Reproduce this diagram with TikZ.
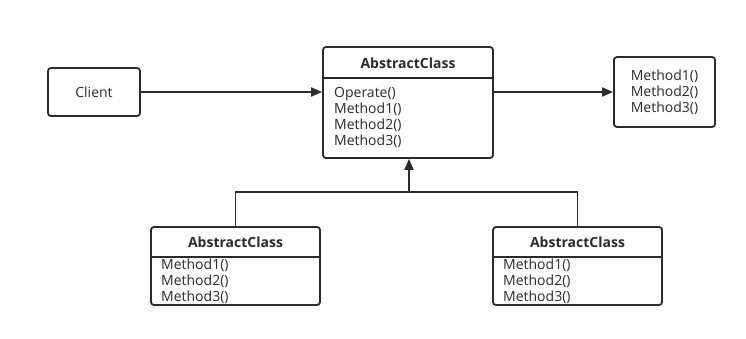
\documentclass[tikz,border=0pt]{standalone}
\usepackage{fontspec}
\setmainfont{Open Sans}
\usetikzlibrary{arrows.meta}
\definecolor{ink}{HTML}{2B2B2B}
\tikzset{
  box/.style={draw=ink, line width=1.8pt, rounded corners=3pt, fill=white, inner sep=0pt},
  title/.style={font=\fontsize{14}{16}\selectfont\bfseries, text=ink, inner sep=0pt},
  body/.style={font=\fontsize{14}{16}\selectfont, text=ink, align=left, inner sep=0pt, anchor=west},
  rule/.style={draw=ink, line width=1.8pt},
  arr/.style={draw=ink, line width=1.8pt, -{Triangle[length=11pt,width=9pt]}},
  link/.style={draw=ink, line width=1.8pt}
}
\begin{document}
\begin{tikzpicture}[x=1pt, y=-1pt]
\useasboundingbox (0,0) rectangle (746,338);

% client
\node[box, minimum width=92pt, minimum height=48pt] (client) at (94,92) {};
\node[body, anchor=center] (clientT) at (client.center) {Client};

% abstract class with template method
\node[box, minimum width=170pt, minimum height=111pt] (ac) at (408,102.5) {};
\node[title] (acT) at (408,63) {AbstractClass};
\draw[rule] (ac.west |- 0,78) -- (ac.east |- 0,78);
\node[body] (acM) at (334,118) {Operate()\\Method1()\\Method2()\\Method3()};

% primitive operations
\node[box, minimum width=101pt, minimum height=70pt] (rb) at (664.5,92) {};
\node[body, anchor=center] (rbM) at (rb.center) {Method1()\\Method2()\\Method3()};

% concrete classes
\node[box, minimum width=169pt, minimum height=78pt] (bl) at (235.5,266) {};
\node[title] (blT) at (235.5,242) {AbstractClass};
\draw[rule] (bl.west |- 0,257) -- (bl.east |- 0,257);
\node[body] (blM) at (161,281) {Method1()\\Method2()\\Method3()};

\node[box, minimum width=169pt, minimum height=78pt] (br) at (577.5,266) {};
\node[title] (brT) at (577.5,242) {AbstractClass};
\draw[rule] (br.west |- 0,257) -- (br.east |- 0,257);
\node[body] (brM) at (503,281) {Method1()\\Method2()\\Method3()};

% connectors
\draw[arr] (client.east) -- (client.east -| ac.west);
\draw[arr] (ac.east |- rb.west) -- (rb.west);
\coordinate (j) at (409,192);
\draw[link] (bl.north) |- (j) -| (br.north);
\draw[arr] (j) -- (j |- ac.south);
\end{tikzpicture}
\end{document}
